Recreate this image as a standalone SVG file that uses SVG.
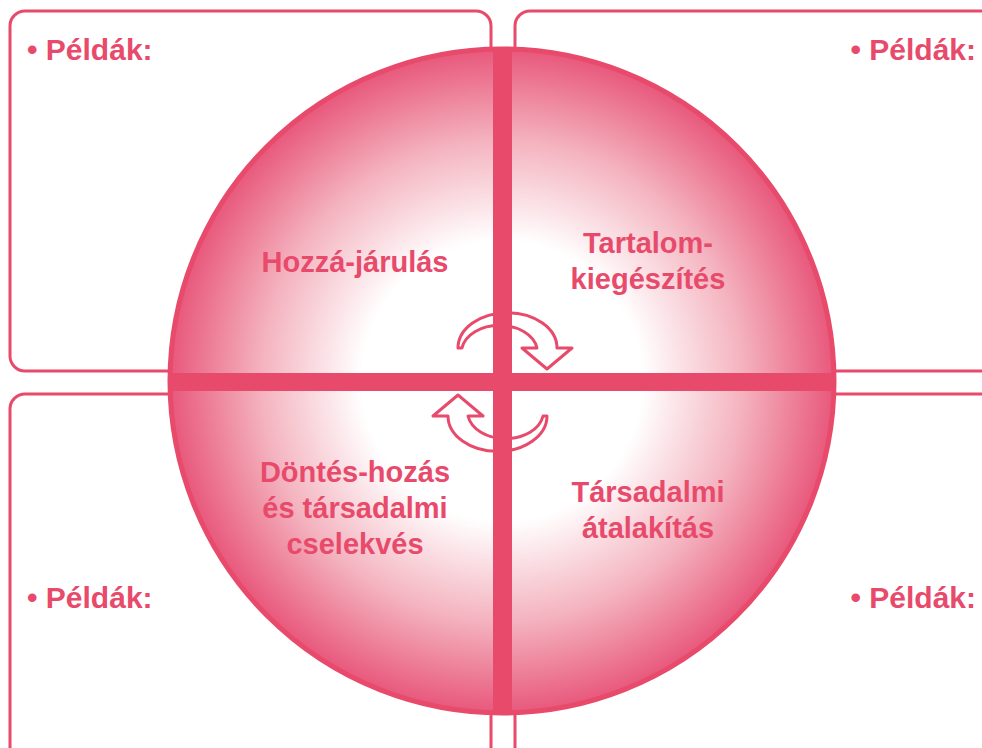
<svg xmlns="http://www.w3.org/2000/svg" width="982" height="748" viewBox="0 0 982 748">
<defs>
<radialGradient id="g" cx="502" cy="381" r="334" gradientUnits="userSpaceOnUse">
<stop offset="0" stop-color="#ffffff"/>
<stop offset="0.42" stop-color="#ffffff"/>
<stop offset="0.72" stop-color="#f4b3bf"/>
<stop offset="1" stop-color="#e8567a"/>
</radialGradient>
<clipPath id="cc"><circle cx="502" cy="381" r="332"/></clipPath>
<style>
.box{fill:none;stroke:#e84a6b;stroke-width:3}
.t{font-family:"Liberation Sans",Arial,sans-serif;font-weight:bold;font-size:29px;fill:#e84a6b;text-anchor:middle}
.p{font-family:"Liberation Sans",Arial,sans-serif;font-weight:bold;font-size:30px;fill:#e84a6b}
.arr{fill:#ffffff;stroke:#e84a6b;stroke-width:3;stroke-linejoin:round}
.bar{fill:#e84a6b}
</style>
</defs>
<g id="box-tl"><rect class="box" x="10" y="11" width="481" height="360" rx="15"/><text class="p" x="27" y="60">• Példák:</text></g>
<g id="box-tr"><rect class="box" x="515" y="11" width="500" height="360" rx="15"/><text class="p" x="976" y="60" text-anchor="end">• Példák:</text></g>
<g id="box-bl"><rect class="box" x="10" y="394" width="481" height="380" rx="15"/><text class="p" x="27" y="608">• Példák:</text></g>
<g id="box-br"><rect class="box" x="515" y="394" width="500" height="380" rx="15"/><text class="p" x="976" y="608" text-anchor="end">• Példák:</text></g>
<g id="circle">
<circle cx="502" cy="381" r="332" fill="url(#g)" stroke="#e84a6b" stroke-width="5"/>
</g>
<g id="connectors">
<path class="arr" d="M 458 348 A 49 35 0 0 1 557 348 L 572 348 L 547 369 L 522 348 L 537 348 A 38 27 0 0 0 462 348 Z"/>
<path class="arr" transform="rotate(180 502.5 382)" d="M 458 348 A 49 35 0 0 1 557 348 L 572 348 L 547 369 L 522 348 L 537 348 A 38 27 0 0 0 462 348 Z"/>
</g>
<g id="cross" clip-path="url(#cc)">
<rect class="bar" x="160" y="373" width="690" height="18"/>
<rect class="bar" x="493" y="40" width="19" height="690"/>
</g>
<g id="q1"><text class="t" x="355" y="272">Hozzá-járulás</text></g>
<g id="q2"><text class="t" x="648" y="253">Tartalom-</text><text class="t" x="648" y="289">kiegészítés</text></g>
<g id="q3"><text class="t" x="355" y="482">Döntés-hozás</text><text class="t" x="355" y="518">és társadalmi</text><text class="t" x="355" y="554">cselekvés</text></g>
<g id="q4"><text class="t" x="648" y="502">Társadalmi</text><text class="t" x="648" y="538">átalakítás</text></g>
</svg>
